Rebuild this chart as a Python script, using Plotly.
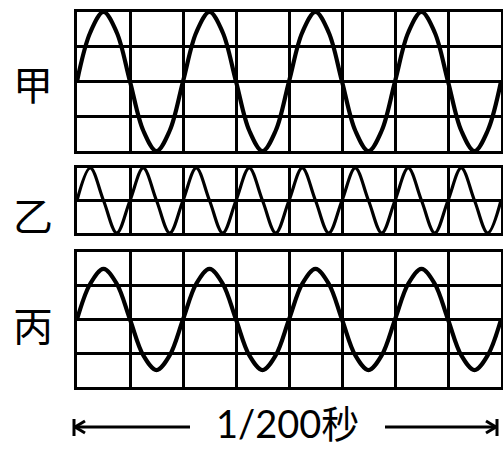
import plotly.graph_objects as go

# time axis in screen divisions (8 divisions = 1/200 s)
div_x = [0, 0.25, 0.5, 0.75, 1, 1.25, 1.5, 1.75, 2, 2.25, 2.5, 2.75, 3, 3.25, 3.5, 3.75,
         4, 4.25, 4.5, 4.75, 5, 5.25, 5.5, 5.75, 6, 6.25, 6.5, 6.75, 7, 7.25, 7.5, 7.75, 8]

# 甲: 4 cycles, amplitude 2 divisions
jia_y = [0, 1.41, 2, 1.41, 0, -1.41, -2, -1.41,
         0, 1.41, 2, 1.41, 0, -1.41, -2, -1.41,
         0, 1.41, 2, 1.41, 0, -1.41, -2, -1.41,
         0, 1.41, 2, 1.41, 0, -1.41, -2, -1.41, 0]

# 乙: 8 cycles, amplitude 1 division (quarter-cycle points)
yi_y = [0, 1, 0, -1, 0, 1, 0, -1, 0, 1, 0, -1, 0, 1, 0, -1,
        0, 1, 0, -1, 0, 1, 0, -1, 0, 1, 0, -1, 0, 1, 0, -1, 0]

# 丙: 4 cycles, amplitude 1.5 divisions
bing_y = [0, 1.06, 1.5, 1.06, 0, -1.06, -1.5, -1.06,
          0, 1.06, 1.5, 1.06, 0, -1.06, -1.5, -1.06,
          0, 1.06, 1.5, 1.06, 0, -1.06, -1.5, -1.06,
          0, 1.06, 1.5, 1.06, 0, -1.06, -1.5, -1.06, 0]

labels = ["甲", "乙", "丙"]
time_label = "1/200秒"

W, H = 503, 449
def fx(px):
    return px / W
def fy(py):
    return 1 - py / H

fig = go.Figure()
fig.add_trace(go.Scatter(x=div_x, y=jia_y, mode="lines", line=dict(color="black", width=4.2, shape="spline"),
                         xaxis="x", yaxis="y", hoverinfo="skip"))
fig.add_trace(go.Scatter(x=div_x, y=yi_y, mode="lines", line=dict(color="black", width=3.2, shape="spline", smoothing=1.0),
                         xaxis="x2", yaxis="y2", hoverinfo="skip"))
fig.add_trace(go.Scatter(x=div_x, y=bing_y, mode="lines", line=dict(color="black", width=4.2, shape="spline"),
                         xaxis="x3", yaxis="y3", hoverinfo="skip"))

xdom = [fx(77), fx(501)]
common = dict(showgrid=True, gridcolor="black", gridwidth=2.5, dtick=1, showticklabels=False,
              zeroline=False, showline=True, mirror=True, linecolor="black", linewidth=3,
              ticks="", fixedrange=True)

fig.update_layout(
    width=W, height=H, margin=dict(l=0, r=0, t=0, b=0),
    paper_bgcolor="white", plot_bgcolor="white", showlegend=False,
    xaxis=dict(domain=xdom, range=[0, 8], anchor="y", **common),
    yaxis=dict(domain=[fy(151), fy(12)], range=[-2, 2], anchor="x", **common),
    xaxis2=dict(domain=xdom, range=[0, 8], anchor="y2", **common),
    yaxis2=dict(domain=[fy(233), fy(168)], range=[-1, 1], anchor="x2", **common),
    xaxis3=dict(domain=xdom, range=[0, 8], anchor="y3", **common),
    yaxis3=dict(domain=[fy(387), fy(252)], range=[-2, 2], anchor="x3", **common),
)

label_y = [83, 214, 324]
for lab, py in zip(labels, label_y):
    fig.add_annotation(x=fx(33), y=fy(py), xref="paper", yref="paper", text=lab, showarrow=False,
                       xanchor="center", yanchor="middle",
                       font=dict(family="Noto Sans CJK SC", size=40, color="black"))

fig.add_annotation(x=fx(287), y=fy(423), xref="paper", yref="paper", text=time_label, showarrow=False,
                   xanchor="center", yanchor="middle", borderpad=0,
                   font=dict(family="Lato, Noto Sans CJK SC", size=38, color="black"))

# dimension arrow  |<----   ---->|
ay = fy(427)
ln = dict(color="black", width=3)
shapes = [
    dict(type="line", xref="paper", yref="paper", x0=fx(75), x1=fx(190), y0=ay, y1=ay, line=ln),
    dict(type="line", xref="paper", yref="paper", x0=fx(385), x1=fx(496), y0=ay, y1=ay, line=ln),
    dict(type="line", xref="paper", yref="paper", x0=fx(74), x1=fx(74), y0=fy(419), y1=fy(436), line=ln),
    dict(type="line", xref="paper", yref="paper", x0=fx(497), x1=fx(497), y0=fy(419), y1=fy(436), line=ln),
    dict(type="line", xref="paper", yref="paper", x0=fx(75), x1=fx(85), y0=ay, y1=fy(421), line=ln),
    dict(type="line", xref="paper", yref="paper", x0=fx(75), x1=fx(85), y0=ay, y1=fy(433), line=ln),
    dict(type="line", xref="paper", yref="paper", x0=fx(496), x1=fx(486), y0=ay, y1=fy(421), line=ln),
    dict(type="line", xref="paper", yref="paper", x0=fx(496), x1=fx(486), y0=ay, y1=fy(433), line=ln),
]
fig.update_layout(shapes=shapes)

fig.write_html("out.html", config={"displayModeBar": False},
               post_script="document.body.style.margin='0';document.body.style.padding='0';document.body.style.overflow='hidden';")
